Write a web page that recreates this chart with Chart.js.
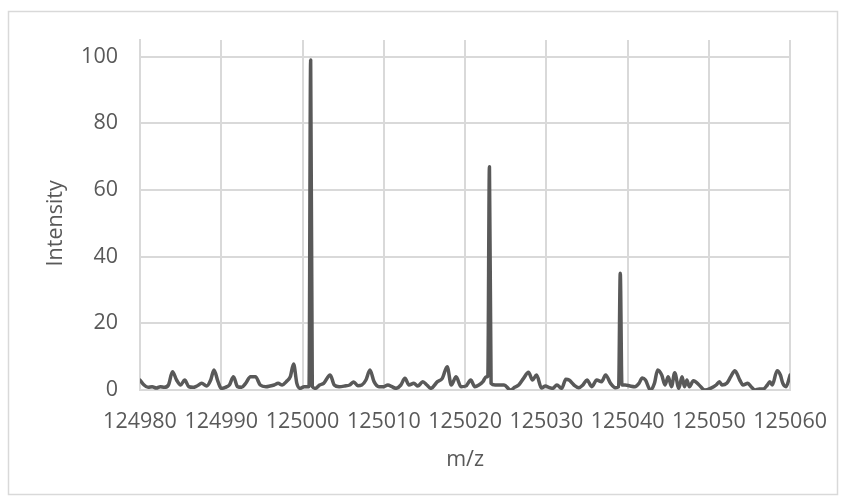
<!DOCTYPE html>
<html>
<head>
<meta charset="utf-8">
<script src="https://cdn.jsdelivr.net/npm/chart.js@4"></script>
<style>
  body { margin: 0; background: #fff; }
  #wrap { width: 846px; height: 504px; position: relative; }
</style>
</head>
<body>
<div id="wrap"><canvas id="spectrum" width="846" height="504"></canvas></div>
<script>
// m/z values and intensities
const mz = [
  124980.0, 124980.5, 124981.0, 124981.5, 124982.0, 124982.5, 124983.0, 124983.5, 124984.0, 124984.5,
  124985.0, 124985.5, 124986.0, 124986.5, 124987.0, 124987.6, 124988.2, 124988.7, 124989.1, 124989.6,
  124990.0, 124990.5, 124991.0, 124991.5, 124992.0, 124992.5, 124993.0, 124993.6, 124994.2, 124994.8,
  124995.5, 124996.0, 124996.5, 124997.0, 124997.5, 124998.0, 124998.5, 124998.9, 124999.3, 124999.7,
  125000.2, 125000.8, 125001.0, 125001.2, 125001.6, 125002.1, 125002.6, 125003.4, 125003.9, 125004.5,
  125005.2, 125005.8, 125006.3, 125006.8, 125007.3, 125007.8, 125008.3, 125008.8, 125009.4, 125010.0,
  125010.5, 125011.0, 125011.5, 125012.1, 125012.6, 125013.1, 125013.7, 125014.2, 125014.8, 125015.3,
  125015.8, 125016.6, 125017.2, 125017.8, 125018.3, 125018.9, 125019.5, 125020.1, 125020.7, 125021.2,
  125021.7, 125022.2, 125022.6, 125022.8, 125023.0, 125023.2, 125023.7, 125024.2, 125024.8, 125025.6,
  125026.1, 125026.6, 125027.2, 125027.8, 125028.3, 125028.8, 125029.4, 125029.9, 125030.3, 125030.8,
  125031.3, 125031.9, 125032.4, 125032.8, 125033.4, 125034.0, 125034.5, 125035.0, 125035.6, 125036.2,
  125036.8, 125037.3, 125037.9, 125038.5, 125038.9, 125039.1, 125039.3, 125039.7, 125040.3, 125040.9,
  125041.4, 125041.8, 125042.2, 125042.8, 125043.3, 125043.7, 125044.2, 125044.6, 125045.0, 125045.4,
  125045.8, 125046.3, 125046.7, 125047.0, 125047.3, 125047.6, 125048.1, 125048.8, 125049.5, 125050.2,
  125050.9, 125051.3, 125051.6, 125052.2, 125052.7, 125053.2, 125053.8, 125054.2, 125054.8, 125055.2,
  125055.7, 125056.2, 125056.7, 125057.2, 125057.5, 125057.8, 125058.4, 125058.8, 125059.1, 125059.5,
  125060.0
];
const intensity = [
  3, 1.5, 0.8, 1, 0.6, 1, 0.8, 1.5, 5.5, 3,
  1.5, 3, 1, 0.8, 1.2, 2, 1.2, 3, 6, 2.5,
  0.5, 0.8, 1.5, 4, 1, 0.8, 2, 4, 4, 1.5,
  1, 1.2, 1.5, 2, 1.5, 2.5, 4, 7.8, 2, 0.5,
  1, 1, 99, 1, 0.5, 1.5, 2, 4.5, 1.5, 1,
  1.2, 1.5, 2.4, 1.3, 1.5, 3, 6, 2.5, 1, 1,
  1.5, 1, 0.5, 1.5, 3.5, 1.5, 2, 1.2, 2.5, 1.5,
  0.5, 2.5, 3.5, 7, 1.5, 4, 1, 1.2, 3, 1,
  1.5, 2.5, 4, 4, 67, 2, 1.5, 1.5, 1.5, 0,
  0.8, 1.5, 3.5, 5.3, 3, 4.5, 0.6, 1.2, 0.8, 0.5,
  1.5, 0.5, 3.2, 3, 1.5, 0.7, 1.5, 3, 1, 3,
  2.5, 4.5, 2, 0.7, 1, 35, 1.5, 1.5, 1.2, 1,
  2, 3.6, 3, 0, 2, 6, 4.5, 1.5, 4, 1,
  5.2, 0.5, 4, 1, 3, 1, 2.8, 1.5, 0, 0.5,
  1.5, 2.5, 1.5, 2, 4, 5.8, 3, 1.5, 2, 1,
  0, 0.3, 0.3, 1.5, 2.5, 1.5, 5.8, 4.5, 2, 1,
  4.5
];
const xTicks = [124980, 124990, 125000, 125010, 125020, 125030, 125040, 125050, 125060];
const yTicks = [0, 20, 40, 60, 80, 100];

const points = mz.map((x, i) => ({ x: x, y: intensity[i] }));

const gray = "#595959";
const grid = "#d9d9d9";
const font = { family: "'Open Sans'", size: 21.5 };

const frame = {
  id: "frame",
  beforeDraw(c) {
    const ctx = c.ctx;
    ctx.save();
    ctx.fillStyle = "#fff";
    ctx.fillRect(0, 0, c.width, c.height);
    ctx.strokeStyle = grid;
    ctx.lineWidth = 1.5;
    ctx.strokeRect(8.5, 11.5, 829, 483);
    ctx.restore();
  },
  // y title is centred on the 0-100 range, not on the whole plot box
  afterDraw(c) {
    const ctx = c.ctx;
    const y = c.scales.y;
    const mid = (y.getPixelForValue(0) + y.getPixelForValue(100)) / 2;
    ctx.save();
    ctx.translate(56, mid);
    ctx.rotate(-Math.PI / 2);
    ctx.font = font.size + "px " + font.family;
    ctx.fillStyle = gray;
    ctx.textAlign = "center";
    ctx.textBaseline = "middle";
    ctx.fillText("Intensity", 0, 0);
    ctx.restore();
  }
};

new Chart(document.getElementById("spectrum"), {
  type: "line",
  data: {
    datasets: [{
      data: points,
      borderColor: gray,
      borderWidth: 3.5,
      pointRadius: 0,
      tension: 0.2,
      cubicInterpolationMode: "monotone",
      borderJoinStyle: "round",
      borderCapStyle: "round",
      fill: false
    }]
  },
  options: {
    responsive: false,
    animation: false,
    layout: { padding: { left: 0, top: 40, right: 54, bottom: 0 } },
    plugins: { legend: { display: false }, tooltip: { enabled: false } },
    scales: {
      x: {
        type: "linear",
        min: 124980,
        max: 125060,
        afterBuildTicks: s => { s.ticks = xTicks.map(v => ({ value: v })); },
        afterFit: s => { s.height = 114; },
        grid: { color: grid, lineWidth: 2, drawTicks: false },
        border: { color: grid, width: 2 },
        ticks: { color: gray, font: font, padding: 19, maxRotation: 0, autoSkip: false, callback: v => String(v) },
        title: { display: true, text: "m/z", color: gray, font: font, padding: { top: 0, bottom: 31 } }
      },
      y: {
        min: 0,
        max: 105,
        afterBuildTicks: s => { s.ticks = yTicks.map(v => ({ value: v })); },
        afterFit: s => { s.width = 140; },
        grid: { color: grid, lineWidth: 2, drawTicks: false },
        border: { color: grid, width: 2 },
        ticks: { color: gray, font: font, padding: 22, callback: v => String(v) }
      }
    }
  },
  plugins: [frame]
});
</script>
</body>
</html>
